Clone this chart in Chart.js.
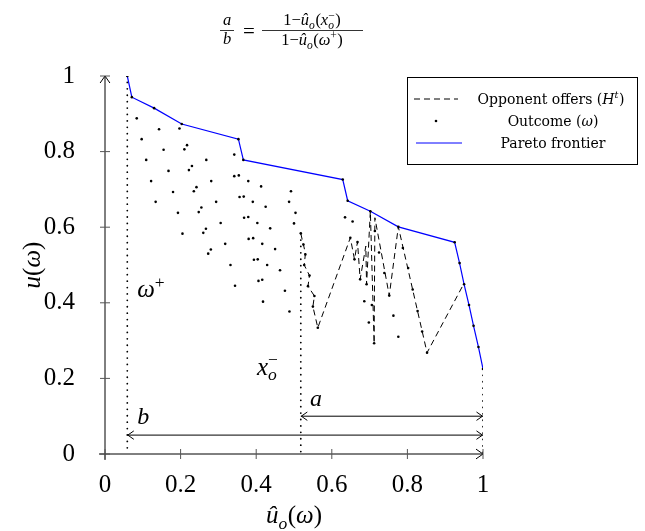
<!DOCTYPE html>
<html>
<head>
<meta charset="utf-8">
<script src="https://cdn.jsdelivr.net/npm/chart.js@4.4.1/dist/chart.umd.min.js"></script>
<style>
  html, body { margin: 0; padding: 0; background: #fff; }
  #wrap { width: 645px; height: 531px; position: relative; }
</style>
</head>
<body>
<div id="wrap"><canvas id="myChart" width="645" height="531"></canvas></div>
<script>
// opponent offers, in the order they came in (û_o, u)
const opponentOffers = [
  [0.518, 0.583], [0.527, 0.545], [0.530, 0.528], [0.527, 0.500], [0.541, 0.472],
  [0.537, 0.444], [0.554, 0.418], [0.550, 0.390], [0.563, 0.334], [0.649, 0.572],
  [0.660, 0.515], [0.668, 0.561], [0.675, 0.462], [0.690, 0.550], [0.692, 0.449],
  [0.702, 0.642], [0.712, 0.293], [0.714, 0.625], [0.752, 0.419], [0.776, 0.601],
  [0.852, 0.268], [0.949, 0.450]
];

const paretoPoints = [
  [0.059, 1.000], [0.071, 0.944], [0.130, 0.915], [0.203, 0.873], [0.353, 0.833],
  [0.366, 0.778], [0.629, 0.726], [0.642, 0.670], [0.702, 0.642], [0.776, 0.601],
  [0.925, 0.560], [0.938, 0.505], [0.950, 0.449], [0.963, 0.394], [0.975, 0.339],
  [0.988, 0.283], [1.000, 0.225]
];

const outcomePoints = [
  [0.084, 0.888], [0.143, 0.859], [0.197, 0.861], [0.097, 0.833], [0.217, 0.817],
  [0.210, 0.806], [0.155, 0.805], [0.342, 0.792], [0.109, 0.778], [0.268, 0.778],
  [0.230, 0.762], [0.222, 0.751], [0.168, 0.749], [0.342, 0.735], [0.354, 0.737],
  [0.122, 0.722], [0.281, 0.722], [0.379, 0.722], [0.242, 0.706], [0.235, 0.695],
  [0.413, 0.708], [0.180, 0.693], [0.492, 0.695], [0.356, 0.680], [0.367, 0.681],
  [0.134, 0.667], [0.294, 0.667], [0.391, 0.667], [0.487, 0.667], [0.255, 0.652],
  [0.248, 0.640], [0.425, 0.654], [0.193, 0.638], [0.504, 0.638], [0.368, 0.625],
  [0.379, 0.627], [0.306, 0.611], [0.403, 0.611], [0.500, 0.610], [0.267, 0.596],
  [0.260, 0.585], [0.437, 0.597], [0.205, 0.583], [0.380, 0.569], [0.392, 0.571],
  [0.318, 0.556], [0.416, 0.556], [0.450, 0.542], [0.273, 0.530], [0.280, 0.541],
  [0.332, 0.500], [0.394, 0.514], [0.404, 0.515], [0.429, 0.500], [0.463, 0.486],
  [0.344, 0.445], [0.406, 0.458], [0.416, 0.461], [0.476, 0.432], [0.418, 0.403],
  [0.488, 0.377], [0.635, 0.626], [0.655, 0.615], [0.763, 0.366], [0.776, 0.310],
  [0.686, 0.404], [0.698, 0.348], [0.525, 0.554], [0.530, 0.528], [0.527, 0.500],
  [0.541, 0.472], [0.537, 0.444], [0.554, 0.418], [0.550, 0.390], [0.563, 0.334],
  [0.649, 0.572], [0.668, 0.561], [0.660, 0.515], [0.675, 0.462], [0.692, 0.449],
  [0.706, 0.394], [0.712, 0.293], [0.714, 0.590], [0.725, 0.533], [0.739, 0.479],
  [0.752, 0.419], [0.788, 0.545], [0.802, 0.492], [0.814, 0.435], [0.827, 0.378],
  [0.839, 0.324], [0.852, 0.268], [0.518, 0.584]
].concat(paretoPoints);

// dotted markers: omega+, x_o^-, and the right end
const omegaPlusLine = [[0.059, 1.0], [0.059, 0]];
const xoMinusLine = [[0.518, 0.583], [0.518, 0]];
const rightLine = [[1.0, 0.225], [1.0, 0]];
// double arrows a and b: [from, to, height]
const arrowA = [0.518, 1.0, 0.10];
const arrowB = [0.059, 1.0, 0.05];

const xTicks = [0, 0.2, 0.4, 0.6, 0.8, 1];
const yTicks = [0, 0.2, 0.4, 0.6, 0.8, 1];

const toXY = arr => arr.map(p => ({ x: p[0], y: p[1] }));

const fontFor = (sz, it) => (it ? 'italic ' : '') + sz + 'px "Liberation Serif", "DejaVu Serif", serif';

// little math renderer: parts are {t, i} or {sub, sup}
function runParts(ctx, parts, x, y, sz, draw, family) {
  const f = family || fontFor;
  let cx = x;
  for (const p of parts) {
    if (p.sub !== undefined || p.sup !== undefined) {
      const s2 = sz * 0.7;
      let w = 0;
      if (p.sup) {
        ctx.font = f(s2, p.supI);
        w = Math.max(w, ctx.measureText(p.sup).width);
        if (draw) ctx.fillText(p.sup, cx, y - sz * 0.38);
      }
      if (p.sub) {
        ctx.font = f(s2, true);
        w = Math.max(w, ctx.measureText(p.sub).width);
        if (draw) ctx.fillText(p.sub, cx, y + sz * 0.22);
      }
      cx += w + 0.5;
    } else {
      ctx.font = f(sz, p.i);
      if (draw) ctx.fillText(p.t, cx, y);
      cx += ctx.measureText(p.t).width;
    }
  }
  return cx - x;
}
function drawCentered(ctx, parts, cx, y, sz, family) {
  const w = runParts(ctx, parts, 0, 0, sz, false, family);
  runParts(ctx, parts, cx - w / 2, y, sz, true, family);
}

function openHead(ctx, x, y, dir, len) {
  // dir: 'l','r','u'
  ctx.beginPath();
  if (dir === 'r') { ctx.moveTo(x - len, y - len * 0.7); ctx.lineTo(x, y); ctx.lineTo(x - len, y + len * 0.7); }
  if (dir === 'l') { ctx.moveTo(x + len, y - len * 0.7); ctx.lineTo(x, y); ctx.lineTo(x + len, y + len * 0.7); }
  if (dir === 'u') { ctx.moveTo(x - len * 0.7, y + len); ctx.lineTo(x, y); ctx.lineTo(x + len * 0.7, y + len); }
  ctx.stroke();
}

const decor = {
  id: 'decor',
  afterDatasetsDraw(chart) {
    const ctx = chart.ctx;
    const xs = chart.scales.x, ys = chart.scales.y;
    ctx.save();
    ctx.fillStyle = '#000';
    ctx.strokeStyle = '#000';
    ctx.textBaseline = 'alphabetic';
    ctx.textAlign = 'left';

    // axes with arrow tips
    const x0 = xs.getPixelForValue(0), x1 = xs.getPixelForValue(1);
    const y0 = ys.getPixelForValue(0), y1 = ys.getPixelForValue(1);
    ctx.lineWidth = 1;
    ctx.beginPath();
    ctx.moveTo(x0 - 6, y0); ctx.lineTo(x1, y0);
    ctx.moveTo(x0, y0 + 6); ctx.lineTo(x0, y1);
    ctx.stroke();
    openHead(ctx, x1, y0, 'r', 7);
    openHead(ctx, x0, y1, 'u', 7);
    ctx.strokeStyle = '#555';
    ctx.beginPath();
    xTicks.forEach(v => { const px = xs.getPixelForValue(v); ctx.moveTo(px, y0 - 5); ctx.lineTo(px, y0 + 5); });
    yTicks.forEach(v => { const py = ys.getPixelForValue(v); ctx.moveTo(x0 - 5, py); ctx.lineTo(x0 + 5, py); });
    ctx.stroke();
    ctx.strokeStyle = '#000';

    // a and b double arrows
    [arrowA, arrowB].forEach(a => {
      const pa = xs.getPixelForValue(a[0]), pb = xs.getPixelForValue(a[1]), py = ys.getPixelForValue(a[2]);
      ctx.lineWidth = 1;
      ctx.beginPath(); ctx.moveTo(pa, py); ctx.lineTo(pb, py); ctx.stroke();
      openHead(ctx, pa + 0.5, py, 'l', 6);
      openHead(ctx, pb - 0.5, py, 'r', 6);
    });

    // point labels
    const at = (x, y) => [xs.getPixelForValue(x), ys.getPixelForValue(y)];
    let p = at(0.085, 0.415);
    runParts(ctx, [{ t: 'ω', i: true }, { sup: '+', supI: false }], p[0], p[1], 25, true);
    p = at(0.402, 0.21);
    runParts(ctx, [{ t: 'x', i: true }, { sub: 'o', sup: '−' }], p[0], p[1], 25, true);
    p = at(0.542, 0.127);
    runParts(ctx, [{ t: 'a', i: true }], p[0], p[1], 24, true);
    p = at(0.085, 0.079);
    runParts(ctx, [{ t: 'b', i: true }], p[0], p[1], 24, true);

    // axis titles
    drawCentered(ctx, [{ t: 'û', i: true }, { sub: 'o' }, { t: '(', i: false }, { t: 'ω', i: true }, { t: ')', i: false }],
      (x0 + x1) / 2, 523, 25);
    ctx.save();
    ctx.translate(40, (y0 + y1) / 2);
    ctx.rotate(-Math.PI / 2);
    drawCentered(ctx, [{ t: 'u', i: true }, { t: '(', i: false }, { t: 'ω', i: true }, { t: ')', i: false }], 0, 0, 25);
    ctx.restore();

    // formula on top
    const fs = 16.5;
    ctx.lineWidth = 0.8;
    drawCentered(ctx, [{ t: 'a', i: true }], 227, 25, fs);
    drawCentered(ctx, [{ t: 'b', i: true }], 227, 44, fs);
    ctx.beginPath(); ctx.moveTo(220, 30.5); ctx.lineTo(234, 30.5); ctx.stroke();
    ctx.font = fontFor(21, false);
    ctx.fillText('=', 243, 38);
    const numParts = [{ t: '1−', i: false }, { t: 'û', i: true }, { sub: 'o' }, { t: '(', i: false }, { t: 'x', i: true }, { sub: 'o', sup: '−' }, { t: ')', i: false }];
    const denParts = [{ t: '1−', i: false }, { t: 'û', i: true }, { sub: 'o' }, { t: '(', i: false }, { t: 'ω', i: true }, { sup: '+', supI: false }, { t: ')', i: false }];
    drawCentered(ctx, numParts, 312, 25, fs);
    drawCentered(ctx, denParts, 312, 45, fs);
    ctx.beginPath(); ctx.moveTo(262, 30.5); ctx.lineTo(363, 30.5); ctx.stroke();

    // legend
    const lx = 407.5, ly = 77.5, lw = 230, lh = 87;
    ctx.fillStyle = '#fff';
    ctx.fillRect(lx, ly, lw, lh);
    ctx.strokeStyle = '#000';
    ctx.lineWidth = 1;
    ctx.strokeRect(lx, ly, lw, lh);
    ctx.fillStyle = '#000';
    const legFont = (sz, it) => (it ? 'italic ' : '') + sz + 'px "DejaVu Serif", serif';
    const ds = chart.data.datasets;
    const rows = [99, 121, 143];
    // row 1 dashed
    ctx.save();
    ctx.setLineDash(ds[0].borderDash);
    ctx.lineWidth = 1;
    ctx.beginPath(); ctx.moveTo(414, rows[0]); ctx.lineTo(458, rows[0]); ctx.stroke();
    ctx.restore();
    ctx.beginPath(); ctx.arc(436, rows[1], 1.3, 0, Math.PI * 2); ctx.fill();
    ctx.strokeStyle = ds[2].borderColor;
    ctx.lineWidth = 1;
    ctx.beginPath(); ctx.moveTo(416, rows[2]); ctx.lineTo(462, rows[2]); ctx.stroke();
    const ls = 14;
    drawCentered(ctx, [{ t: 'Opponent offers (', i: false }, { t: 'H', i: true }, { sup: 't', supI: true }, { t: ')', i: false }], 551, rows[0] + 4.5, ls, legFont);
    drawCentered(ctx, [{ t: 'Outcome (', i: false }, { t: 'ω', i: true }, { t: ')', i: false }], 553, rows[1] + 4.5, ls, legFont);
    drawCentered(ctx, [{ t: ds[2].label, i: false }], 553, rows[2] + 4.5, ls, legFont);
    ctx.restore();
  }
};

const dotted = data => ({
  data: toXY(data), showLine: true, borderColor: '#000', borderWidth: 1.8,
  borderDash: [0.01, 6.4], borderCapStyle: 'round', pointRadius: 0, fill: false
});

const tickFmt = v => String(Math.round(v * 10) / 10);

const ctx = document.getElementById('myChart').getContext('2d');
const myChart = new Chart(ctx, {
  type: 'scatter',
  data: {
    datasets: [
      {
        label: 'Opponent offers (H^t)',
        data: toXY(opponentOffers),
        showLine: true,
        borderColor: '#000',
        borderWidth: 1,
        borderDash: [6, 4],
        pointRadius: 0,
        tension: 0
      },
      {
        label: 'Outcome (ω)',
        data: toXY(outcomePoints),
        backgroundColor: '#000',
        borderWidth: 0,
        pointRadius: 1.3
      },
      {
        label: 'Pareto frontier',
        data: toXY(paretoPoints),
        showLine: true,
        borderColor: '#0000ff',
        borderWidth: 1.2,
        pointRadius: 0,
        tension: 0
      },
      Object.assign({ label: 'omega+' }, dotted(omegaPlusLine)),
      Object.assign({ label: 'x_o-' }, dotted(xoMinusLine)),
      Object.assign({ label: 'right' }, dotted(rightLine))
    ]
  },
  options: {
    responsive: false,
    animation: false,
    layout: { padding: { left: 0, top: 76, right: 162, bottom: 0 } },
    plugins: { legend: { display: false }, tooltip: { enabled: false } },
    scales: {
      x: {
        type: 'linear', min: 0, max: 1,
        afterFit: s => { s.height = 77; },
        afterBuildTicks: s => { s.ticks = xTicks.map(v => ({ value: v })); },
        grid: { display: false },
        border: { display: false },
        ticks: { color: '#000', padding: 8, callback: tickFmt, font: { family: '"Liberation Serif", serif', size: 25 } }
      },
      y: {
        type: 'linear', min: 0, max: 1,
        afterFit: s => { s.width = 105; },
        afterBuildTicks: s => { s.ticks = yTicks.map(v => ({ value: v })); },
        grid: { display: false },
        border: { display: false },
        ticks: { color: '#000', padding: 22, callback: tickFmt, font: { family: '"Liberation Serif", serif', size: 25 } }
      }
    }
  },
  plugins: [decor]
});
</script>
</body>
</html>
